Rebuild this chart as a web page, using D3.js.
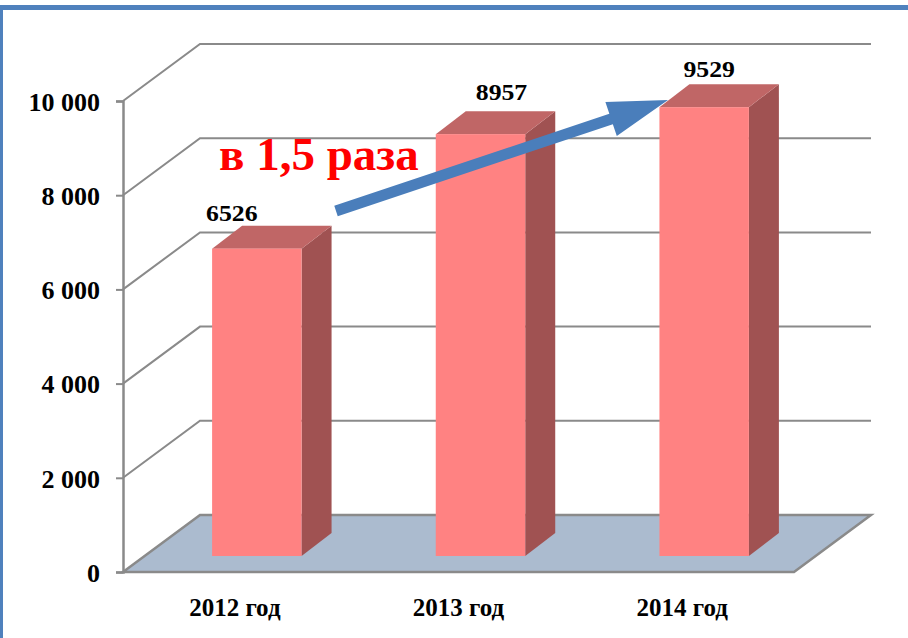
<!DOCTYPE html>
<html>
<head>
<meta charset="utf-8">
<script src="https://cdn.jsdelivr.net/npm/d3@7"></script>
<style>
  body { margin: 0; background: #fff; }
</style>
</head>
<body>
<svg id="chart" width="908" height="638"></svg>
<script>
// chart data
var years = ["2012 год", "2013 год", "2014 год"];
var values = [6526, 8957, 9529];
var yTicks = [0, 2000, 4000, 6000, 8000, 10000];
var note = "в 1,5 раза";

// hand placed label nudges (like in the original slide)
var labelDx = [-25, 21, 5];
var labelDy = [-5, -11, -7];

var serif = "'Liberation Serif', 'Times New Roman', serif";
var svg = d3.select("#chart");

// 3d geometry
var wallDx = 77, wallDy = -57;   // back wall offset
var barDx = 22, barDy = -16;     // bars sit a bit behind the front edge
var depthDx = 30, depthDy = -23; // bar thickness

var x = d3.scaleBand().domain(years).range([123, 794]).paddingInner(0.6).paddingOuter(0.3);
var y = d3.scaleLinear().domain([0, 10000]).range([572, 101]);
var fmt = d3.formatLocale({decimal: ",", thousands: " ", grouping: [3], currency: ["", ""]}).format(",");

// frame
svg.append("line").attr("x1", 0).attr("x2", 908).attr("y1", 7.5).attr("y2", 7.5)
  .attr("stroke", "#4f81bd").attr("stroke-width", 5);
svg.append("line").attr("x1", 1.5).attr("x2", 1.5).attr("y1", 5).attr("y2", 638)
  .attr("stroke", "#4f81bd").attr("stroke-width", 3);

var grid = svg.append("g").attr("stroke", "#8a8a8a").attr("stroke-width", 2).attr("fill", "none");
yTicks.filter(function(d) { return d > 0; }).forEach(function(d) {
  var yy = y(d);
  grid.append("polyline")
    .attr("points", [[x.range()[0], yy], [x.range()[0] + wallDx, yy + wallDy], [x.range()[1] + wallDx, yy + wallDy]].join(" "));
});

// floor
var x0 = x.range()[0], x1 = x.range()[1], yb = y(0);
svg.append("polygon")
  .attr("points", [[x0, yb], [x0 + wallDx, yb + wallDy], [x1 + wallDx, yb + wallDy], [x1, yb]].join(" "))
  .attr("fill", "#abbbcf").attr("stroke", "#8a8a8a").attr("stroke-width", 2.5);

// y axis
var axis = svg.append("g").attr("transform", "translate(" + x0 + ",0)")
  .call(d3.axisLeft(y).tickValues(yTicks).tickSize(7).tickFormat(fmt));
axis.select(".domain").attr("stroke", "#8a8a8a").attr("stroke-width", 2.5);
axis.selectAll(".tick line").attr("stroke", "#8a8a8a").attr("stroke-width", 2);
axis.selectAll(".tick text").attr("x", -23).attr("dy", "0.36em")
  .style("font-family", serif).style("font-weight", "bold")
  .style("font-size", "26px").attr("fill", "#000");

// bars
var bw = x.bandwidth();
var bars = svg.selectAll(".bar").data(values).enter().append("g").attr("class", "bar");
bars.each(function(v, i) {
  var g = d3.select(this);
  var l = x(years[i]) + barDx, r = l + bw;
  var b = y(0) + barDy, t = y(v) + barDy;
  g.append("polygon")
    .attr("points", [[r, t], [r + depthDx, t + depthDy], [r + depthDx, b + depthDy], [r, b]].join(" "))
    .attr("fill", "#a05252");
  g.append("polygon")
    .attr("points", [[l, t], [l + depthDx, t + depthDy], [r + depthDx, t + depthDy], [r, t]].join(" "))
    .attr("fill", "#c06666");
  g.append("rect").attr("x", l).attr("y", t).attr("width", bw).attr("height", b - t)
    .attr("fill", "#ff8282");
});

// value labels
svg.selectAll(".val").data(values).enter().append("text")
  .attr("class", "val")
  .attr("text-anchor", "middle")
  .attr("transform", function(v, i) {
    var cx = x(years[i]) + barDx + bw / 2 + labelDx[i];
    var cy = y(v) + barDy + depthDy + labelDy[i];
    return "translate(" + cx + "," + cy + ") scale(1.12,1)";
  })
  .style("font-family", serif).style("font-weight", "bold")
  .style("font-size", "23px")
  .text(function(v) { return v; });

// category labels
svg.selectAll(".cat").data(years).enter().append("text")
  .attr("class", "cat")
  .attr("x", function(d) { return x(d) + bw / 2; })
  .attr("y", 616)
  .attr("text-anchor", "middle")
  .style("font-family", serif).style("font-weight", "bold")
  .style("font-size", "25px")
  .text(function(d) { return d; });

// growth arrow
var a0 = [336, 211], a1 = [668, 100];
var ux = a1[0] - a0[0], uy = a1[1] - a0[1], len = Math.sqrt(ux * ux + uy * uy);
ux /= len; uy /= len;
var nx = -uy, ny = ux;
var headLen = 60, headW = 18, shaftW = 5.5;
var hb = [a1[0] - headLen * ux, a1[1] - headLen * uy];
var pts = [
  [a0[0] + shaftW * nx, a0[1] + shaftW * ny],
  [hb[0] + shaftW * nx, hb[1] + shaftW * ny],
  [hb[0] + headW * nx, hb[1] + headW * ny],
  a1,
  [hb[0] - headW * nx, hb[1] - headW * ny],
  [hb[0] - shaftW * nx, hb[1] - shaftW * ny],
  [a0[0] - shaftW * nx, a0[1] - shaftW * ny]
];
svg.append("polygon").attr("points", pts.join(" ")).attr("fill", "#4a7ebb");

svg.append("text")
  .attr("x", 219).attr("y", 170)
  .style("font-family", serif).style("font-weight", "bold")
  .style("font-size", "47px")
  .attr("fill", "#ff0000")
  .text(note);
</script>
</body>
</html>
